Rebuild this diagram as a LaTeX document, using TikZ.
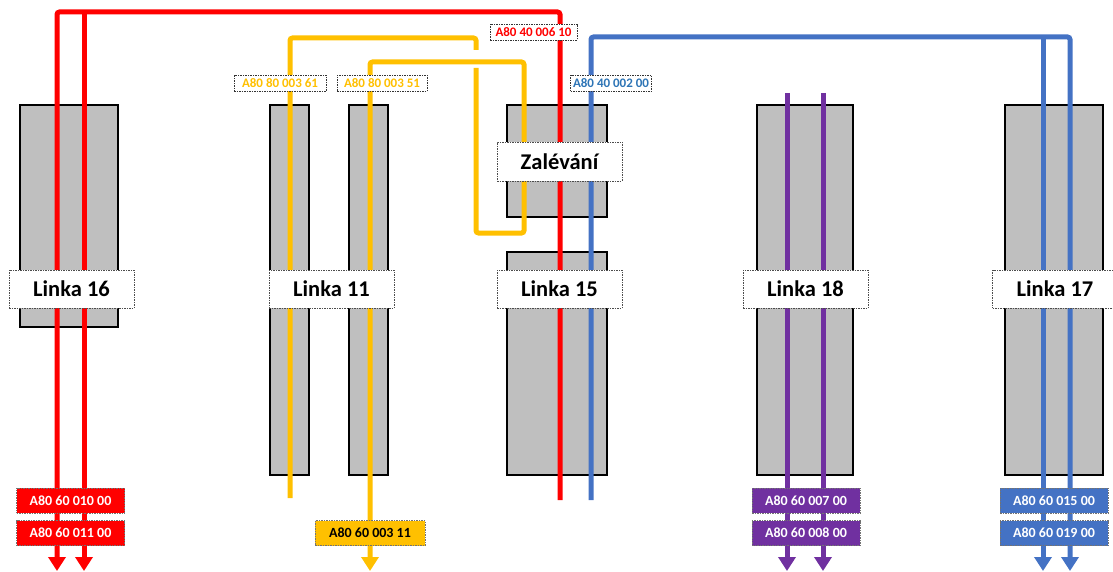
\documentclass[tikz,border=0pt]{standalone}
\usepackage{fontspec}
\setmainfont{Carlito}
\usetikzlibrary{arrows.meta}
\definecolor{boxgray}{HTML}{BFBFBF}
\definecolor{cred}{HTML}{FF0000}
\definecolor{cyel}{HTML}{FFC000}
\definecolor{cblue}{HTML}{4472C4}
\definecolor{cpur}{HTML}{7030A0}
\definecolor{tblue}{HTML}{2E75B6}
\tikzset{
  stand/.style={draw=black, line width=2pt, fill=boxgray, inner sep=0pt},
  flow/.style={line width=5pt, rounded corners=2.5pt},
  arr/.style={-{Triangle[width=17pt,length=14pt]}},
  linka/.style={draw=black!70, line width=0.8pt, dash pattern=on 1.5pt off 1pt, fill=white,
     inner sep=0pt, minimum width=125pt, minimum height=38pt,
     font=\bfseries\fontsize{22.5}{26}\selectfont},
  code/.style={draw=black!55, line width=0.8pt, dash pattern=on 1.5pt off 1pt, inner sep=0pt,
     minimum width=108pt, minimum height=25pt, text=white,
     font=\bfseries\fontsize{14}{16}\selectfont},
  tag/.style={draw=black!80, line width=0.8pt, dash pattern=on 1.5pt off 1pt, fill=white,
     inner sep=0pt, minimum height=16pt, font=\bfseries\fontsize{13}{14}\selectfont},
}
\begin{document}
\begin{tikzpicture}[x=1pt,y=-1pt]
\useasboundingbox (0,0) rectangle (1113,572);
% stands
\node[stand, minimum width=98pt, minimum height=222pt] (b16) at (69,216) {};
\node[stand, minimum width=39pt, minimum height=370pt] (b11a) at (289.5,290) {};
\node[stand, minimum width=39pt, minimum height=370pt] (b11b) at (368.5,290) {};
\node[stand, minimum width=100pt, minimum height=112pt] (bZ) at (557,161) {};
\node[stand, minimum width=100pt, minimum height=223pt] (b15) at (557,363.5) {};
\node[stand, minimum width=96pt, minimum height=370pt] (b18) at (805,290) {};
\node[stand, minimum width=98pt, minimum height=370pt] (b17) at (1054,290) {};
% coordinates
\coordinate (rS) at (560,500); \coordinate (rTR) at (560,12); \coordinate (rTL) at (57,12);
\coordinate (rA1) at (57,571); \coordinate (rT2) at (84,12); \coordinate (rA2) at (84,571);
\coordinate (yS) at (290,498); \coordinate (yT1) at (290,38); \coordinate (yT2) at (476,38);
\coordinate (yG1) at (476,50); \coordinate (yG2) at (476,68); \coordinate (yB1) at (476,233);
\coordinate (yB2) at (524,233); \coordinate (yU) at (524,62); \coordinate (yL) at (370,62);
\coordinate (yA) at (370,571);
\coordinate (bS) at (591,500); \coordinate (bT1) at (591,37); \coordinate (bT2) at (1070,37);
\coordinate (bA2) at (1070,571); \coordinate (bT3) at (1043,37); \coordinate (bA1) at (1043,571);
\coordinate (pT1) at (787,93); \coordinate (pA1) at (787,571);
\coordinate (pT2) at (823,93); \coordinate (pA2) at (823,571);
% flows
\draw[flow, cred, arr] (rS) -- (rTR) -- (rTL) -- (rA1);
\draw[flow, cred, arr] (rT2) -- (rA2);
\draw[flow, cyel] (yS) -- (yT1) -- (yT2) -- (yG1);
\draw[flow, cyel, arr] (yG2) -- (yB1) -- (yB2) -- (yU) -- (yL) -- (yA);
\draw[flow, cblue, arr] (bS) -- (bT1) -- (bT2) -- (bA2);
\draw[flow, cblue, arr] (bT3) -- (bA1);
\draw[flow, cpur, arr] (pT1) -- (pA1);
\draw[flow, cpur, arr] (pT2) -- (pA2);
% line labels
\node[linka] (l16) at (71.5,289) {Linka 16};
\node[linka] (l11) at (331.5,289) {Linka 11};
\node[linka] (l15) at (559.5,289) {Linka 15};
\node[linka] (l18) at (805.5,289) {Linka 18};
\node[linka] (l17) at (1055,289) {Linka 17};
\node[linka, minimum height=39pt] (zal) at (559.5,161.5) {Zalévání};
% tags
\node[tag, text=cred, minimum width=87pt] (t1) at (533.5,32) {A80 40 006 10};
\node[tag, text=cyel, minimum width=92pt] (t2) at (280,83.5) {A80 80 003 61};
\node[tag, text=cyel, minimum width=90pt] (t3) at (382,83.5) {A80 80 003 51};
\node[tag, text=tblue, minimum width=81pt] (t4) at (611,83.5) {A80 40 002 00};
% codes
\node[code, fill=cred] (c1) at (70.5,500.5) {A80 60 010 00};
\node[code, fill=cred] (c2) at (70.5,533) {A80 60 011 00};
\node[code, fill=cyel, text=black, minimum width=110pt] (c3) at (370,533) {A80 60 003 11};
\node[code, fill=cpur] (c4) at (806,500.5) {A80 60 007 00};
\node[code, fill=cpur] (c5) at (806,533) {A80 60 008 00};
\node[code, fill=cblue] (c6) at (1054,500.5) {A80 60 015 00};
\node[code, fill=cblue] (c7) at (1054,533) {A80 60 019 00};
\end{tikzpicture}
\end{document}
